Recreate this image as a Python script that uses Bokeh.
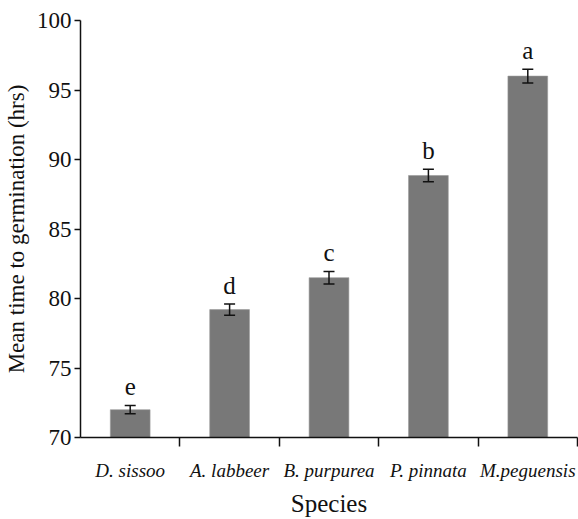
from bokeh.plotting import figure
from bokeh.models import ColumnDataSource, FixedTicker, Whisker, TeeHead, Range1d
from bokeh.core.properties import value
from bokeh.embed import file_html
from bokeh.resources import INLINE

species = ["D. sissoo", "A. labbeer", "B. purpurea", "P. pinnata", "M.peguensis"]
mean_time = [72.0, 79.2, 81.5, 88.85, 96.0]
std_err = [0.3, 0.4, 0.45, 0.45, 0.5]
letters = ["e", "d", "c", "b", "a"]
y_ticks = [70, 75, 80, 85, 90, 95, 100]

FONT = "Liberation Serif"

xs = [i + 0.5 for i in range(len(species))]
src = ColumnDataSource(dict(
    x=xs, top=mean_time, err=std_err, lab=letters,
    upper=[m + e for m, e in zip(mean_time, std_err)],
    lower=[m - e for m, e in zip(mean_time, std_err)],
))

p = figure(width=578, height=519, output_backend="svg", toolbar_location=None,
           x_range=Range1d(0, len(species)), y_range=Range1d(70, 100))
p.min_border_left = 77
p.min_border_right = 1
p.min_border_top = 20
p.min_border_bottom = 82
p.outline_line_color = None
p.xgrid.grid_line_color = None
p.ygrid.grid_line_color = None
p.background_fill_color = "white"
p.border_fill_color = "white"

p.vbar(x="x", top="top", bottom=70, width=0.4, source=src,
       fill_color="#787878", line_color="#9a9a9a", line_width=0.6)

w = Whisker(base="x", upper="upper", lower="lower", source=src, level="overlay",
            line_color="#111111", line_width=1.5,
            upper_head=TeeHead(size=11, line_color="#111111", line_width=1.5),
            lower_head=TeeHead(size=11, line_color="#111111", line_width=1.5))
p.add_layout(w)

p.text(x="x", y="upper", text="lab", source=src, text_align="center",
       text_baseline="alphabetic", y_offset=-19,
       text_font=value(FONT), text_font_size="25px", text_color="#111111")

# x axis: labels at category centres, ticks at category boundaries
xa = p.xaxis[0]
xa.ticker = FixedTicker(ticks=xs, minor_ticks=[i + 1 for i in range(len(species))])
xa.major_label_overrides = {x: s for x, s in zip(xs, species)}
xa.major_tick_out = 0
xa.major_tick_in = 0
xa.minor_tick_out = 9
xa.minor_tick_in = 0
xa.minor_tick_line_color = "#111111"
xa.minor_tick_line_width = 1.5
xa.axis_line_color = "#111111"
xa.axis_line_width = 1.5
xa.major_label_text_font = FONT
xa.major_label_text_font_style = "italic"
xa.major_label_text_font_size = "19px"
xa.major_label_text_color = "#111111"
xa.major_label_standoff = 13
xa.axis_label = "Species"
xa.axis_label_text_font = FONT
xa.axis_label_text_font_style = "normal"
xa.axis_label_text_font_size = "25px"
xa.axis_label_text_color = "#111111"
xa.axis_label_standoff = 6

ya = p.yaxis[0]
ya.ticker = FixedTicker(ticks=y_ticks)
ya.minor_tick_line_color = None
ya.major_tick_out = 6
ya.major_tick_in = 0
ya.major_tick_line_color = "#111111"
ya.major_tick_line_width = 1.5
ya.axis_line_color = "#111111"
ya.axis_line_width = 1.5
ya.major_label_text_font = FONT
ya.major_label_text_font_size = "23px"
ya.major_label_text_color = "#111111"
ya.major_label_standoff = 3
ya.axis_label = "Mean time to germination (hrs)"
ya.axis_label_text_font = FONT
ya.axis_label_text_font_style = "normal"
ya.axis_label_text_font_size = "23px"
ya.axis_label_text_color = "#111111"
ya.axis_label_standoff = 5

open("out.html", "w").write(file_html(p, INLINE))
